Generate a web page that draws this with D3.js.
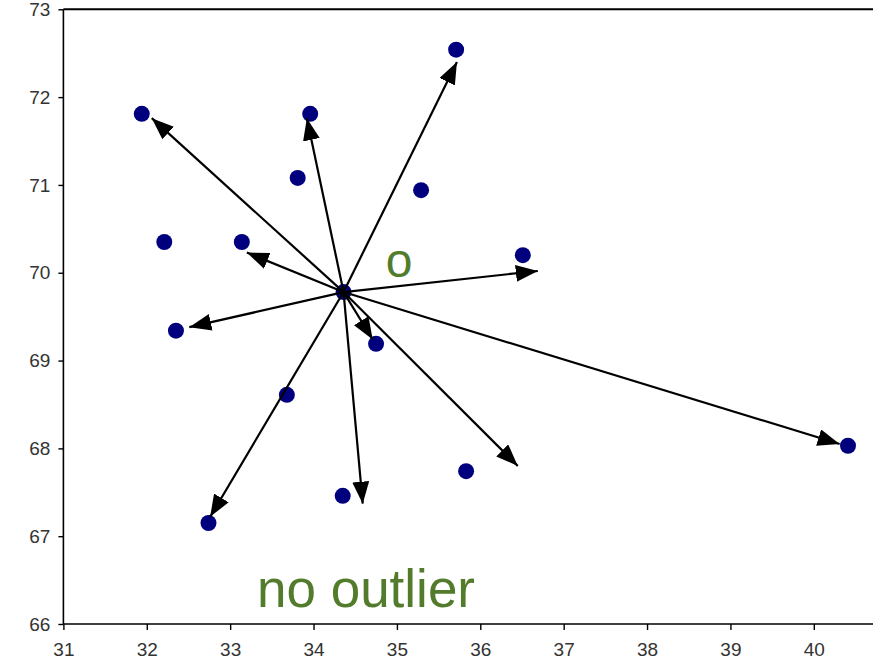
<!DOCTYPE html>
<html>
<head>
<meta charset="utf-8">
<script src="https://cdn.jsdelivr.net/npm/d3@7"></script>
<style>
  body { margin: 0; background: #fff; }
</style>
</head>
<body>
<svg width="889" height="662"></svg>
<script>
// puntos del grafico
var ptX = [31.94, 33.96, 35.71, 33.81, 35.29, 32.21, 33.14, 36.51, 34.36, 32.35, 34.75, 33.68, 40.41, 35.83, 34.35, 32.74];
var ptY = [71.81, 71.81, 72.54, 71.08, 70.94, 70.35, 70.35, 70.20, 69.78, 69.34, 69.19, 68.61, 68.03, 67.74, 67.46, 67.15];

// origen de las flechas y sus puntas
var origin = [34.36, 69.78];
var tipX = [32.06, 33.92, 35.72, 33.20, 32.51, 36.69, 34.59, 36.45, 40.31, 34.71, 32.76];
var tipY = [71.76, 71.76, 72.40, 70.23, 69.38, 70.02, 67.37, 67.80, 68.05, 69.24, 67.22];

var xTicks = [31, 32, 33, 34, 35, 36, 37, 38, 39, 40];
var yTicks = [66, 67, 68, 69, 70, 71, 72, 73];

var svg = d3.select("svg"),
    margin = {top: 9.3, right: 16, bottom: 38, left: 63.4},
    width = +svg.attr("width") - margin.left - margin.right,
    height = +svg.attr("height") - margin.top - margin.bottom,
    g = svg.append("g").attr("transform", "translate(" + margin.left + "," + margin.top + ")");

var x = d3.scaleLinear().domain([31, 40.71]).range([0, width]);
var y = d3.scaleLinear().domain([66, 73]).range([height, 0]);

// punta de flecha
svg.append("defs").append("marker")
    .attr("id", "head")
    .attr("markerUnits", "userSpaceOnUse")
    .attr("viewBox", "0 0 22 17")
    .attr("refX", 22).attr("refY", 8.5)
    .attr("markerWidth", 22).attr("markerHeight", 17)
    .attr("orient", "auto")
  .append("path")
    .attr("d", "M0,0L22,8.5L0,17Z")
    .attr("fill", "#000");

// ejes
var xAxis = g.append("g")
    .attr("transform", "translate(0," + height + ")")
    .call(d3.axisBottom(x).tickValues(xTicks).tickSize(6).tickPadding(13).tickFormat(d3.format("d")));
var yAxis = g.append("g")
    .call(d3.axisLeft(y).tickValues(yTicks).tickSize(5).tickPadding(8).tickFormat(d3.format("d")));
[xAxis, yAxis].forEach(function(a) {
  a.attr("font-family", "Arial, 'Liberation Sans', sans-serif").attr("font-size", 19);
  a.selectAll(".tick text").attr("fill", "#333");
  a.select(".domain").attr("stroke", "#000").attr("stroke-width", 1.6);
  a.selectAll(".tick line").attr("stroke", "#000").attr("stroke-width", 1.4);
});
yAxis.select(".domain").attr("d", "M0," + height + "V0");
xAxis.select(".domain").attr("d", "M0,0H" + width);

// linea superior
g.append("line")
    .attr("x1", 0).attr("x2", width)
    .attr("y1", 0).attr("y2", 0)
    .attr("stroke", "#000").attr("stroke-width", 2);

// puntos
g.selectAll("circle.pt")
  .data(ptX)
  .enter().append("circle")
    .attr("class", "pt")
    .attr("cx", function(d) { return x(d); })
    .attr("cy", function(d, i) { return y(ptY[i]); })
    .attr("r", 8)
    .attr("fill", "#00007f");

// flechas
g.selectAll("line.arrow")
  .data(tipX)
  .enter().append("line")
    .attr("class", "arrow")
    .attr("x1", x(origin[0]))
    .attr("y1", y(origin[1]))
    .attr("x2", function(d) { return x(d); })
    .attr("y2", function(d, i) { return y(tipY[i]); })
    .attr("stroke", "#000")
    .attr("stroke-width", 2.2)
    .attr("marker-end", "url(#head)");

// textos
svg.append("text")
    .attr("x", 399).attr("y", 277)
    .attr("text-anchor", "middle")
    .attr("font-family", "Arial, 'Liberation Sans', sans-serif")
    .attr("font-size", 48)
    .attr("fill", "#527b2c")
    .text("o");

svg.append("text")
    .attr("x", 366).attr("y", 607)
    .attr("text-anchor", "middle")
    .attr("font-family", "Arial, 'Liberation Sans', sans-serif")
    .attr("font-size", 53)
    .attr("fill", "#527b2c")
    .text("no outlier");
</script>
</body>
</html>
